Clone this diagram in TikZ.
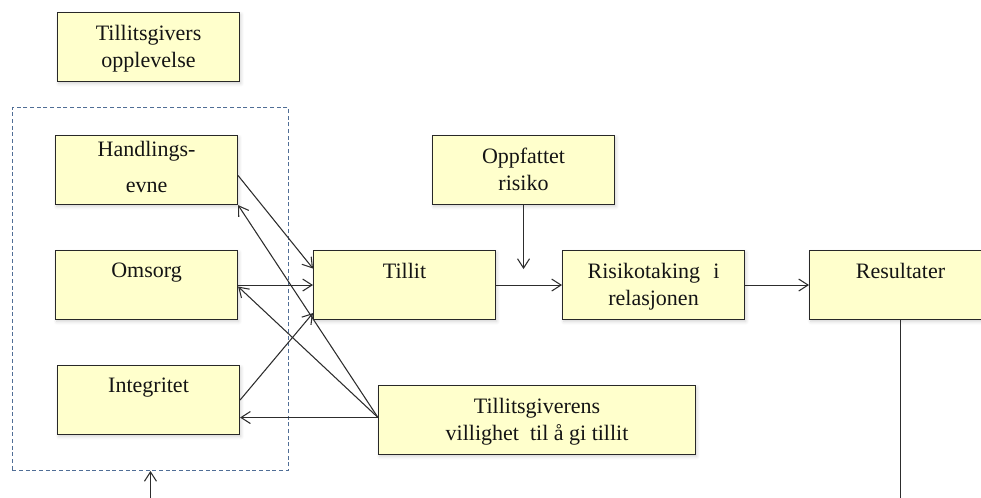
\documentclass[tikz,border=0pt]{standalone}
\usepackage{fontspec}
\setmainfont{Liberation Serif}
\usetikzlibrary{arrows.meta,calc,shadows.blur}

\definecolor{boxfill}{RGB}{255,255,204}
\definecolor{boxline}{RGB}{40,40,40}
\definecolor{linkline}{RGB}{45,45,45}
\definecolor{groupline}{RGB}{80,110,150}
\definecolor{ink}{RGB}{20,20,20}

\begin{document}
\begin{tikzpicture}[x=0.75pt,y=-0.75pt,
  box/.style={draw=boxline, fill=boxfill, line width=0.8pt, anchor=north west,
    minimum width=136.5pt, minimum height=51.75pt, inner sep=0pt,
    blur shadow={shadow xshift=1pt, shadow yshift=-1.5pt, shadow opacity=18,
      shadow blur radius=2.5pt, shadow blur steps=6}},
  widebox/.style={box, minimum width=237.75pt},
  txt/.style={anchor=north, inner sep=0pt, align=center, text=ink,
    font=\fontsize{16.5}{20.25}\selectfont, yshift=-9.4pt},
  link/.style={draw=linkline, line width=0.8pt,
    -{Straight Barb[length=7pt,width=9pt]}},
  plainlink/.style={draw=linkline, line width=0.8pt},
  groupbox/.style={draw=groupline, dash pattern=on 3pt off 2pt, line width=0.7pt,
    anchor=north west, inner sep=0pt, minimum width=207pt, minimum height=272.25pt}
]
\useasboundingbox (0,0) rectangle (981,497);
\clip (0,0) rectangle (981,497);

% dimension group
\node[groupbox] (grp) at (12,107) {};

% boxes
\node[box] (exp)    at (57,12)   {};
\node[box] (hand)   at (55,135)  {};
\node[box] (oms)    at (55,250)  {};
\node[box] (integ)  at (57,365)  {};
\node[box] (tillit) at (313,250) {};
\node[box] (opp)    at (432,135) {};
\node[box] (risk)   at (562,250) {};
\node[box] (res)    at (809,250) {};
\node[widebox] (vill) at (378,385) {};

% box texts
\node[txt] (exp-t)    at (exp.north)    {Tillitsgivers\\opplevelse};
\node[txt, yshift=5.3pt, font=\fontsize{16.5}{27.5}\selectfont] (hand-t) at (hand.north) {Handlings-\\evne};
\node[txt] (oms-t)    at (oms.north)    {Omsorg};
\node[txt] (integ-t)  at (integ.north)  {Integritet};
\node[txt] (tillit-t) at (tillit.north) {Tillit};
\node[txt] (opp-t)    at (opp.north)    {Oppfattet\\risiko};
\node[txt] (risk-t)   at (risk.north)   {Risikotaking\hspace{0.6em}i\\relasjonen};
\node[txt] (res-t)    at (res.north)    {Resultater};
\node[txt] (vill-t)   at (vill.north)   {Tillitsgiverens\\villighet\ \ til å gi tillit};

% connectors
\coordinate (vsrc) at ($(vill.west)+(0,-2.5)$);
\coordinate (oppend) at ($(opp.south)+(0,64)$);
\coordinate (resout) at ($(res.south)+(0,200)$);
\coordinate (fbin) at ($(grp.south)+(0,40)$);

\draw[link] ($(hand.east)+(0,5.5)$) -- ($(tillit.west)+(0,-16.5)$);
\draw[link] (oms.east) -- (tillit.west);
\draw[link] (integ.east) -- ($(tillit.south west)+(0,-7)$);
\draw[link] (vsrc) -- (hand.south east);
\draw[link] (vsrc) -- ($(oms.east)+(0,1.5)$);
\draw[link] (vsrc) -- (vsrc -| integ.east);
\draw[link] (opp.south) -- (oppend);
\draw[link] (tillit.east) -- (risk.west);
\draw[link] (risk.east) -- (res.west);
\draw[plainlink] (res.south) -- (resout);
\draw[link] (fbin) -- (grp.south);
\end{tikzpicture}
\end{document}
